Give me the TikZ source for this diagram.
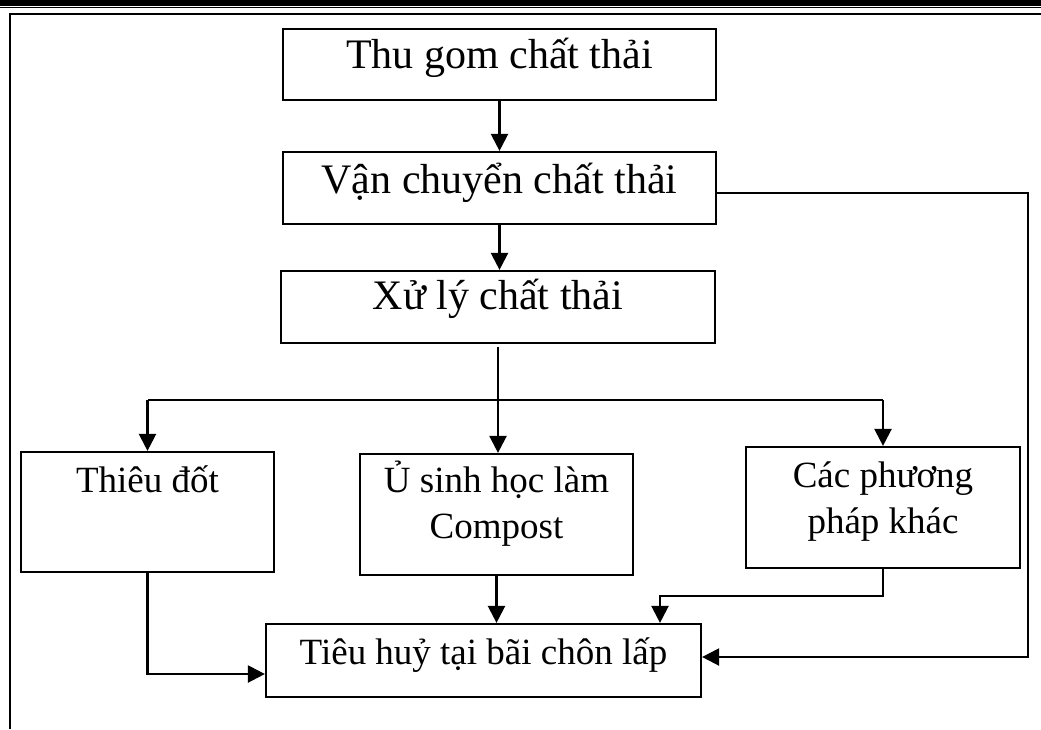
\documentclass[tikz,border=0pt]{standalone}
\usepackage{fontspec}
\setmainfont{Liberation Serif}
\usetikzlibrary{arrows.meta}
\tikzset{
  box/.style={draw, line width=2.2pt, inner sep=0pt},
  lbl/.style={font=\fontsize{37}{46}\selectfont, inner sep=0pt, align=center, anchor=base},
  biglbl/.style={lbl, font=\fontsize{42}{50}\selectfont},
  arr/.style={line width=2.3pt, -{Triangle[length=17pt,width=17pt]}},
  ln/.style={line width=2.3pt},
  thinln/.style={line width=1.3pt},
}
\begin{document}
\begin{tikzpicture}[x=1pt,y=-1pt]
\useasboundingbox (0,0) rectangle (1041,729);
% page header and frame
\fill (0,0) rectangle (1041,5.5);
\fill (0,6.5) rectangle (1041,8);
\draw[line width=2.2pt] (10,729) -- (10,14.2) -- (1041,14.2);
% boxes
\node[box, minimum width=433pt, minimum height=71pt] (b1) at (499.5,64.5) {};
\node[box, minimum width=433pt, minimum height=72pt] (b2) at (499.5,188) {};
\node[box, minimum width=434pt, minimum height=72pt] (b3) at (498,307) {};
\node[box, minimum width=253pt, minimum height=120pt] (b4) at (147.5,512) {};
\node[box, minimum width=273pt, minimum height=121pt] (b5) at (496.5,514.5) {};
\node[box, minimum width=274pt, minimum height=121pt] (b7) at (883,507.5) {};
\node[box, minimum width=435pt, minimum height=73pt] (b6) at (483.5,660.5) {};
% labels
\node[biglbl] (t1) at ([yshift=-41pt]b1.north) {Thu gom chất thải};
\node[biglbl] (t2) at ([yshift=-43pt]b2.north) {Vận chuyển chất thải};
\node[biglbl] (t3) at ([yshift=-40pt]b3.north) {Xử lý chất thải};
\node[lbl] (t4) at ([yshift=-42pt]b4.north) {Thiêu đốt};
\node[lbl] (t5) at ([yshift=-86pt]b5.north) {Ủ sinh học làm\\Compost};
\node[lbl] (t7) at ([yshift=-88pt]b7.north) {Các phương\\pháp khác};
\node[lbl] (t6) at ([yshift=-42pt]b6.north) {Tiêu huỷ tại bãi chôn lấp};
% connectors
\coordinate (split) at (498,400);
\coordinate (c7) at (660,596);
\coordinate (rbot) at (1028,657);
\draw[arr] (b1.south) -- (b2.north);
\draw[arr] (b2.south) -- (b2.south |- b3.north);
\draw[thinln] ([yshift=-3pt]b3.south) -- (split);
\draw[ln] (b4.north |- split) -- (b7.north |- split);
\draw[arr] (b4.north |- split) -- (b4.north);
\draw[arr] (split) -- (split |- b5.north);
\draw[arr] (b7.north |- split) -- (b7.north);
\draw[arr] (b4.south) |- ([yshift=-13.5pt]b6.west);
\draw[arr] (b5.south) -- (b5.south |- b6.north);
\draw[arr] (b7.south) |- (c7) -- (c7 |- b6.north);
\draw[arr] ([yshift=-5pt]b2.east) -| (rbot) -- ([yshift=3.5pt]b6.east);
\end{tikzpicture}
\end{document}
